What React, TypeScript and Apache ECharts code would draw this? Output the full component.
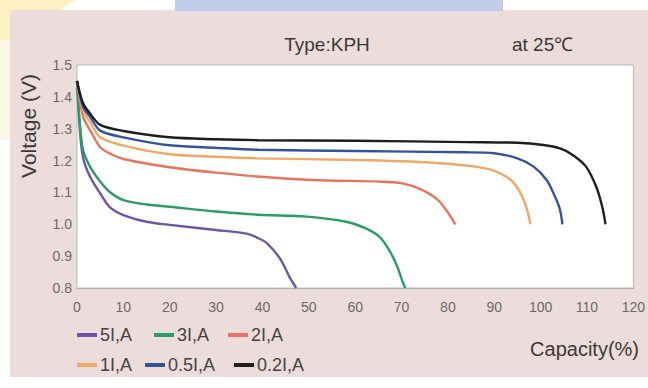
import React, { useEffect, useRef } from "react";
import * as echarts from "echarts";

// ---- data (capacity %, voltage V) ----
const seriesNames = ["5I,A", "3I,A", "2I,A", "1I,A", "0.5I,A", "0.2I,A"];
const seriesColors = ["#6f55a8", "#2a9e62", "#e8735f", "#f0a866", "#34539e", "#1e1e1e"];

const curve5 = [[0,1.45],[0.6,1.3],[1.3,1.21],[2.8,1.15],[5,1.097],[7,1.055],[10,1.029],[15,1.008],[20,0.998],[30,0.982],[36.8,0.97],[39,0.957],[41,0.94],[43.9,0.89],[46,0.83],[47.3,0.8]];
const curve3 = [[0,1.45],[0.6,1.32],[1.3,1.233],[2.8,1.181],[5,1.134],[7,1.102],[10,1.076],[15,1.062],[20,1.055],[30,1.04],[39,1.03],[49.6,1.024],[58,1.008],[62.3,0.987],[65.2,0.961],[67.3,0.92],[69.1,0.867],[70.1,0.825],[70.8,0.8]];
const curve2 = [[0,1.45],[1.3,1.338],[2.8,1.296],[5,1.242],[7,1.223],[10,1.205],[20,1.179],[30,1.162],[39,1.15],[51,1.139],[65,1.134],[70,1.129],[74.4,1.108],[77.9,1.076],[80.1,1.035],[81.6,1.0]];
const curve1 = [[0,1.45],[1.3,1.359],[2.8,1.322],[5,1.273],[10,1.247],[20,1.22],[30,1.212],[39,1.207],[60,1.202],[72,1.197],[80,1.19],[85.8,1.181],[90,1.168],[93.6,1.139],[95.7,1.097],[97.1,1.045],[97.8,1.0]];
const curve05 = [[0,1.45],[1.3,1.369],[2.8,1.338],[5,1.294],[10,1.273],[20,1.248],[30,1.24],[39,1.234],[60,1.23],[83.6,1.226],[90,1.223],[95,1.207],[98.5,1.181],[101.3,1.139],[103.1,1.087],[104.2,1.045],[104.7,1.0]];
const curve02 = [[0,1.45],[1.3,1.38],[2.8,1.348],[5,1.312],[10,1.293],[20,1.273],[30,1.267],[39,1.264],[60,1.262],[84,1.258],[95,1.256],[100.6,1.249],[104.2,1.238],[107,1.217],[109.8,1.181],[112,1.118],[113.3,1.055],[114,1.0]];
const curves = [curve5, curve3, curve2, curve1, curve05, curve02];

const xMin = 0, xMax = 120, xStep = 10;
const yMin = 0.8, yMax = 1.5, yStep = 0.1;

const titleText = "Type:KPH";
const tempText = "at 25℃";
const yName = "Voltage (V)";
const xName = "Capacity(%)";

// legend positions (left, top) per item
const legendPos = [[77, 326], [154, 326], [228, 326], [77, 356], [145, 356], [234, 356]];

const FONT = "'Liberation Sans', Arial, sans-serif";

export default function App() {
  const ref = useRef<HTMLDivElement>(null);
  useEffect(() => {
    if (!ref.current) return;
    const chart = echarts.init(ref.current, undefined, { renderer: "svg" });
    const series = curves.map((data, i) => ({
      name: seriesNames[i],
      type: "line",
      data,
      smooth: 0.3,
      showSymbol: false,
      lineStyle: { color: seriesColors[i], width: 2.4 },
      itemStyle: { color: seriesColors[i] },
      z: 3,
    }));
    const legends = seriesNames.map((n, i) => ({
      data: [n],
      left: legendPos[i][0],
      top: legendPos[i][1],
      icon: "rect",
      itemWidth: 20,
      itemHeight: 4,
      itemGap: 0,
      padding: 0,
      textStyle: { fontSize: 18, color: "#444", fontFamily: FONT, padding: [0, 0, 0, -2] },
      selectedMode: false,
    }));
    chart.setOption({
      animation: false,
      backgroundColor: "#ffffff",
      textStyle: { fontFamily: FONT },
      graphic: [
        { type: "polygon", shape: { points: [[0, 0], [76, 0], [0, 46]] }, style: { fill: "#fdf0c2" }, z: 0, silent: true },
        { type: "rect", shape: { x: 0, y: 40, width: 10, height: 100 }, style: { fill: "#fcf6e4" }, z: 0, silent: true },
        { type: "rect", shape: { x: 10, y: 10, width: 638, height: 367 }, style: { fill: "#ecdcdb" }, z: 0, silent: true },
        { type: "rect", shape: { x: 175, y: 0, width: 328, height: 11 }, style: { fill: "#c2cde8" }, z: 1, silent: true },
        { type: "text", x: 327, y: 44, style: { text: titleText, fill: "#3a3a3a", fontSize: 19, fontFamily: FONT, align: "center", verticalAlign: "middle" }, z: 5 },
        { type: "text", x: 512, y: 44, style: { text: tempText, fill: "#3a3a3a", fontSize: 19, fontFamily: FONT, align: "left", verticalAlign: "middle" }, z: 5 },
        { type: "text", x: 28, y: 126, rotation: Math.PI / 2, style: { text: yName, fill: "#3a3a3a", fontSize: 21, fontFamily: FONT, align: "center", verticalAlign: "middle" }, z: 5 },
        { type: "text", x: 639, y: 349, style: { text: xName, fill: "#3a3a3a", fontSize: 20, fontFamily: FONT, align: "right", verticalAlign: "middle" }, z: 5 },
      ],
      legend: legends,
      grid: { left: 77, top: 65, right: 7, bottom: 100, show: true, backgroundColor: "#ffffff", borderColor: "#bdbdbd", borderWidth: 1, z: 1 },
      xAxis: {
        type: "value",
        min: xMin,
        max: xMax,
        interval: xStep,
        axisLine: { show: true, lineStyle: { color: "#a8a8a8", width: 1 } },
        axisTick: { show: false },
        splitLine: { show: true, lineStyle: { color: "#c0c0c0", width: 1.3 } },
        axisLabel: { color: "#6a6a6a", fontSize: 14, margin: 12, fontFamily: FONT },
      },
      yAxis: {
        type: "value",
        min: yMin,
        max: yMax,
        interval: yStep,
        axisLine: { show: true, lineStyle: { color: "#a0a0a0", width: 1 } },
        axisTick: { show: false },
        splitLine: { show: true, lineStyle: { color: "#c0c0c0", width: 1.3 } },
        axisLabel: { color: "#6a6a6a", fontSize: 14, margin: 5, fontFamily: FONT, formatter: (v: number) => v.toFixed(1) },
      },
      series,
    });
    return () => chart.dispose();
  }, []);
  return <div ref={ref} style={{ position: "absolute", left: 0, top: 0, width: 648, height: 388 }} />;
}
